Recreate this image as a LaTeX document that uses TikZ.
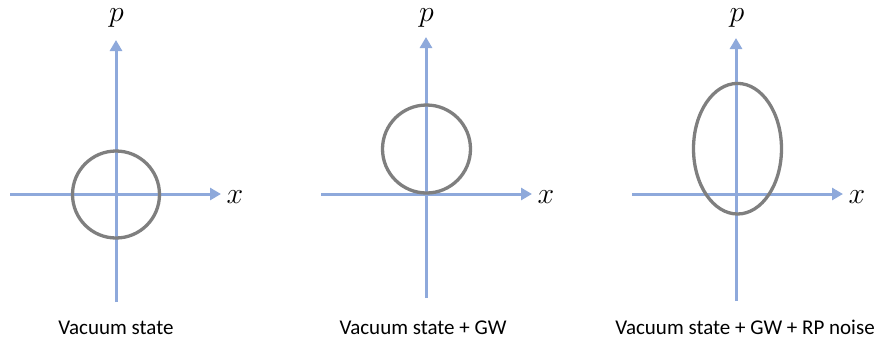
\documentclass[tikz,border=0pt]{standalone}
\usepackage{fontspec}
\setmainfont{Carlito}
\usetikzlibrary{arrows.meta}
\definecolor{axisblue}{HTML}{8EA9DB}
\definecolor{stategray}{HTML}{7F7F7F}
\tikzset{
  axis/.style={draw=axisblue, line width=3pt, -{Triangle[length=11pt,width=12pt]}},
  statecurve/.style={draw=stategray, line width=3.3pt},
  axlabel/.style={font=\Huge, scale=1.2, inner sep=0pt, anchor=base, text height=1ex, text depth=0.4ex},
  caption/.style={font=\fontsize{21}{25}\selectfont, inner sep=0pt, anchor=base}
}
\begin{document}
\begin{tikzpicture}[x=1pt,y=-1pt]
\useasboundingbox (0,0) rectangle (878,341);
% panel 1
\coordinate (h1s) at (10,194);
\coordinate (h1e) at (221,194);
\coordinate (v1s) at (116,302);
\coordinate (v1e) at (116,40);
\draw[axis] (h1s) -- (h1e);
\draw[axis] (v1s) -- (v1e);
\draw[statecurve] (116,194.5) ellipse [x radius=43.5, y radius=43.5];
\node[axlabel] (x1) at (235,203) {$x$};
\node[axlabel] (p1) at (116.5,21) {$p$};
\node[caption] (c1) at (116,334) {Vacuum state};
% panel 2
\coordinate (h2s) at (321,194);
\coordinate (h2e) at (532,194);
\coordinate (v2s) at (426,298);
\coordinate (v2e) at (426,37);
\draw[axis] (h2s) -- (h2e);
\draw[axis] (v2s) -- (v2e);
\draw[statecurve] (426.5,149) ellipse [x radius=44, y radius=44];
\node[axlabel] (x2) at (546,203) {$x$};
\node[axlabel] (p2) at (426.5,21) {$p$};
\node[caption] (c2) at (423,334) {Vacuum state + GW};
% panel 3
\coordinate (h3s) at (632,194);
\coordinate (h3e) at (843,194);
\coordinate (v3s) at (736,301);
\coordinate (v3e) at (736,38);
\draw[axis] (h3s) -- (h3e);
\draw[axis] (v3s) -- (v3e);
\draw[statecurve] (737.5,148.7) ellipse [x radius=44, y radius=65.3];
\node[axlabel] (x3) at (857,203) {$x$};
\node[axlabel] (p3) at (737,21) {$p$};
\node[caption] (c3) at (745,334) {Vacuum state + GW + RP noise};
\end{tikzpicture}
\end{document}
